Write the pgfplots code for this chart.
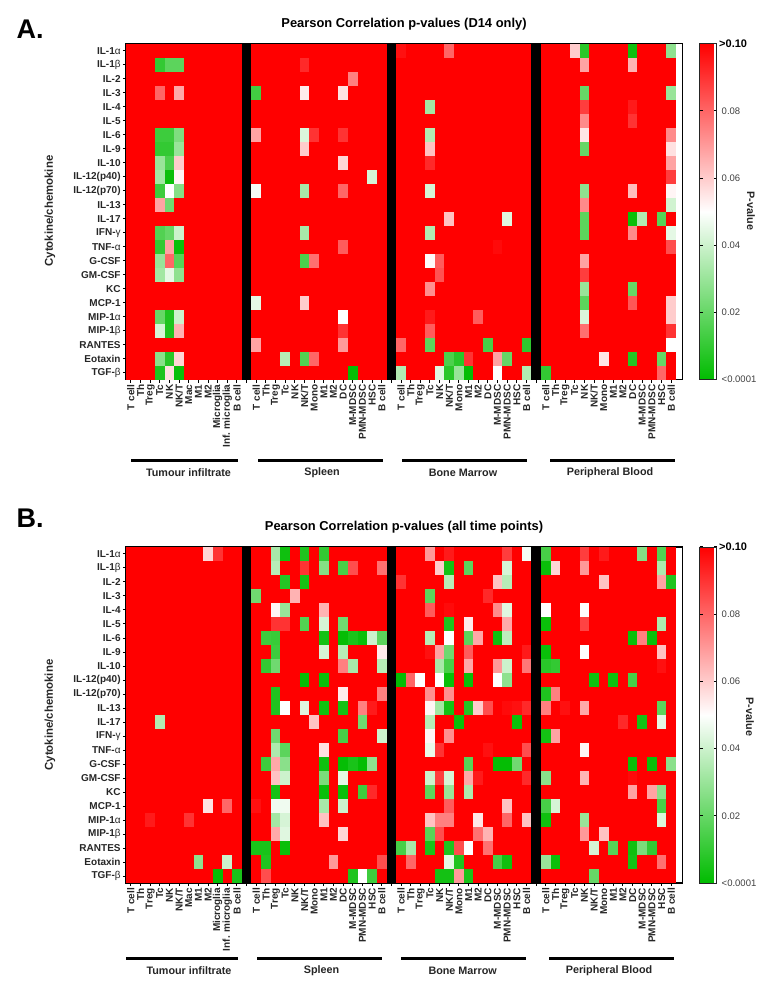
\documentclass[border=0pt]{standalone}
\usepackage{pgfplots}
\usepackage{fontspec}
\pgfplotsset{compat=1.18}
\setmainfont{Liberation Sans}
\definecolor{tg}{gray}{0.25}
\pgfdeclareplotmark{cell}{\pgfpathrectangle{\pgfpoint{-4.85pt}{-7.03pt}}{\pgfpoint{9.7pt}{14.06pt}}\pgfusepathqfill}
\pgfplotsset{
  hm/.style={
    scale only axis, width=556.7pt, height=336pt,
    anchor=south west, clip=true,
    xmin=-0.5, xmax=57.19, ymin=-0.5, ymax=23.5, y dir=reverse,
    axis line style={line width=1.3pt},
    tick align=outside, tick pos=left, major tick length=3.2pt,
    tick style={black,line width=1pt},
    xtick={0,...,56}, ytick={0,...,23},
    xticklabels={T cell,Th,Treg,Tc,NK,NK/T,Mac,M1,M2,Microglia,Inf. microglia,B cell,,
      T cell,Th,Treg,Tc,NK,NK/T,Mono,M1,M2,DC,M-MDSC,PMN-MDSC,HSC,B cell,,
      T cell,Th,Treg,Tc,NK,NK/T,Mono,M1,M2,DC,M-MDSC,PMN-MDSC,HSC,B cell,,
      T cell,Th,Treg,Tc,NK,NK/T,Mono,M1,M2,DC,M-MDSC,PMN-MDSC,HSC,B cell},
    yticklabels={IL-1{\mdseries α},IL-1{\mdseries β},IL-2,IL-3,IL-4,IL-5,IL-6,IL-9,IL-10,IL-12(p40),IL-12(p70),IL-13,IL-17,IFN-{\mdseries γ},TNF-{\mdseries α},G-CSF,GM-CSF,KC,MCP-1,MIP-1{\mdseries α},MIP-1{\mdseries β},RANTES,Eotaxin,TGF-{\mdseries β}},
    x tick label style={rotate=90,anchor=east,font=\bfseries\fontsize{10}{10}\selectfont,inner xsep=1.5pt,inner ysep=0pt,text=black!85},
    y tick label style={font=\bfseries\fontsize{10}{10}\selectfont,inner xsep=2pt,text=black!85},
    colormap={pval}{rgb255(0)=(0,188,0) rgb255(1)=(255,255,255) rgb255(2)=(255,0,0)},
    point meta min=0, point meta max=0.1,
    colorbar,
    colorbar style={
      at={(parent axis.north east)}, anchor=north west, xshift=8.3pt,
      width=17pt, height=336pt, scale only axis,
      axis line style={line width=0.8pt,black!85},
      ymin=0,ymax=0.1,
      ytick={0,0.02,0.04,0.06,0.08,0.1},
      yticklabels={<0.0001,0.02,0.04,0.06,0.08,{\hspace*{-2.5pt}\bfseries\fontsize{11}{11}\selectfont\color{black}>0.10}},
      tick align=inside, ytick pos=both, yticklabel pos=right,
      major tick length=3pt, tick style={black,line width=1pt},
      y tick label style={font=\fontsize{9.5}{10}\selectfont,text=tg,inner xsep=5pt},
    },
  },
}
\newcommand{\bgcells}{%
  \addplot[fill=red,draw=none,forget plot] coordinates {(-0.5,-0.5)(56.5,-0.5)(56.5,23.5)(-0.5,23.5)};
  \addplot[fill=black,draw=none,forget plot] coordinates {(11.5,-0.5)(12.5,-0.5)(12.5,23.5)(11.5,23.5)};
  \addplot[fill=black,draw=none,forget plot] coordinates {(26.5,-0.5)(27.5,-0.5)(27.5,23.5)(26.5,23.5)};
  \addplot[fill=black,draw=none,forget plot] coordinates {(41.5,-0.5)(42.5,-0.5)(42.5,23.5)(41.5,23.5)};
}
\begin{document}
\begin{tikzpicture}
\useasboundingbox (0,0) rectangle (782pt,995pt);
% ---------- Panel A ----------
\begin{axis}[hm, at={(126pt,615.3pt)}]
\bgcells
\addplot[scatter,only marks,mark=cell,scatter src=explicit] table[x index=0,y index=1,meta index=2,header=false,row sep=\\] {
3 1 .01\\ 4 1 .018\\ 5 1 .018\\ 18 1 .092\\
23 2 .075\\
3 3 .08\\ 5 3 .067\\ 13 3 .013\\ 18 3 .054\\ 22 3 .056\\
3 6 .012\\ 4 6 .012\\ 5 6 .025\\ 13 6 .068\\ 18 6 .043\\ 19 6 .09\\ 22 6 .09\\
3 7 .01\\ 4 7 .01\\ 5 7 .03\\ 18 7 .06\\
3 8 .03\\ 4 8 .015\\ 5 8 .06\\ 22 8 .058\\
3 9 .032\\ 4 9 .002\\ 5 9 .052\\ 25 9 .042\\
3 10 .012\\ 4 10 .05\\ 5 10 .026\\ 13 10 .048\\ 18 10 .033\\ 22 10 .08\\
3 11 .068\\ 4 11 .022\\
3 13 .016\\ 4 13 .02\\ 5 13 .04\\ 18 13 .033\\
3 14 .01\\ 4 14 .068\\ 5 14 .002\\ 22 14 .082\\
3 15 .03\\ 4 15 .08\\ 5 15 .017\\ 18 15 .015\\ 19 15 .078\\
3 16 .032\\ 4 16 .045\\ 5 16 .028\\
13 18 .045\\ 18 18 .06\\
3 19 .02\\ 4 19 .006\\ 5 19 .04\\ 22 19 .05\\
3 20 .042\\ 4 20 .006\\ 5 20 .065\\ 22 20 .09\\
13 21 .068\\ 22 21 .07\\
3 22 .027\\ 4 22 .008\\ 5 22 .058\\ 16 22 .036\\ 18 22 .016\\ 19 22 .08\\
3 23 .006\\ 4 23 .056\\ 5 23 .002\\ 23 23 .001\\
28 0 .097\\ 33 0 .08\\ 46 0 .06\\ 47 0 .008\\ 52 0 .003\\ 56 0 .028\\
47 1 .068\\ 52 1 .065\\
47 3 .02\\ 56 3 .03\\
31 4 .032\\ 47 4 .088\\ 52 4 .095\\
47 5 .073\\ 52 5 .09\\
31 6 .035\\ 47 6 .055\\ 56 6 .073\\
31 7 .062\\ 47 7 .02\\ 56 7 .056\\
31 8 .092\\ 56 8 .068\\
56 9 .088\\
31 10 .042\\ 47 10 .028\\ 52 10 .063\\ 56 10 .052\\
47 11 .073\\ 56 11 .041\\
33 12 .062\\ 39 12 .044\\ 47 12 .018\\ 52 12 .002\\ 53 12 .035\\ 55 12 .017\\
31 13 .035\\ 47 13 .018\\ 52 13 .073\\ 56 13 .045\\
38 14 .098\\ 56 14 .085\\
31 15 .051\\ 32 15 .082\\ 47 15 .068\\
32 16 .084\\ 47 16 .088\\
31 17 .072\\ 47 17 .03\\ 52 17 .02\\
47 18 .018\\ 52 18 .083\\ 56 18 .06\\
31 19 .095\\ 36 19 .082\\ 47 19 .043\\ 56 19 .06\\
31 20 .082\\ 47 20 .078\\ 56 20 .09\\
28 21 .08\\ 31 21 .018\\ 37 21 .014\\ 41 21 .009\\ 56 21 .05\\
33 22 .015\\ 34 22 .008\\ 35 22 .09\\ 38 22 .068\\ 39 22 .02\\ 49 22 .055\\ 52 22 .007\\ 55 22 .02\\
28 23 .035\\ 32 23 .044\\ 33 23 .008\\ 34 23 .03\\ 35 23 .001\\ 38 23 .05\\ 41 23 .035\\ 43 23 .01\\ 55 23 .08\\
};
\end{axis}
% ---------- Panel B ----------
\begin{axis}[hm, at={(126pt,112pt)}]
\bgcells
\addplot[scatter,only marks,mark=cell,scatter src=explicit] table[x index=0,y index=1,meta index=2,header=false,row sep=\\] {
8 0 .058\\ 9 0 .09\\ 15 0 .033\\ 16 0 .003\\ 18 0 .006\\ 20 0 .01\\
15 1 .036\\ 18 1 .09\\ 20 1 .026\\ 22 1 .014\\ 23 1 .085\\ 26 1 .078\\
16 2 .007\\ 18 2 .004\\
13 3 .022\\ 17 3 .065\\
15 4 .052\\ 16 4 .03\\ 20 4 .065\\
15 5 .09\\ 16 5 .09\\ 18 5 .016\\ 20 5 .042\\ 22 5 .022\\
14 6 .012\\ 15 6 .011\\ 20 6 .004\\ 22 6 .001\\ 23 6 .005\\ 24 6 .002\\ 25 6 .04\\ 26 6 .018\\
15 7 .012\\ 20 7 .042\\ 22 7 .036\\ 26 7 .054\\
14 8 .01\\ 15 8 .022\\ 22 8 .075\\ 23 8 .033\\ 26 8 .036\\
18 9 .001\\ 20 9 .002\\
15 10 .006\\ 22 10 .054\\ 26 10 .075\\
15 11 .006\\ 16 11 .05\\ 18 11 .044\\ 20 11 .003\\ 22 11 .004\\ 24 11 .075\\ 25 11 .095\\
3 12 .035\\ 19 12 .062\\ 24 12 .022\\
15 13 .022\\ 22 13 .014\\ 26 13 .04\\
15 14 .034\\ 16 14 .018\\ 20 14 .056\\
14 15 .012\\ 15 15 .067\\ 16 15 .027\\ 20 15 .003\\ 22 15 .001\\ 23 15 .005\\ 24 15 .001\\ 25 15 .028\\
15 16 .062\\ 16 16 .04\\ 20 16 .024\\ 22 16 .045\\
15 17 .004\\ 20 17 .002\\ 22 17 .002\\ 24 17 .012\\ 25 17 .092\\
8 18 .056\\ 10 18 .08\\ 13 18 .097\\ 15 18 .047\\ 16 18 .047\\ 20 18 .033\\ 22 18 .04\\
2 19 .095\\ 6 19 .09\\ 15 19 .032\\ 16 19 .042\\ 20 19 .062\\
15 20 .067\\ 16 20 .044\\ 22 20 .058\\
13 21 .005\\ 14 21 .005\\ 16 21 .002\\
7 22 .028\\ 10 22 .04\\ 14 22 .006\\ 21 22 .07\\ 26 22 .085\\
9 23 .001\\ 11 23 .005\\ 14 23 .085\\ 23 23 .006\\ 24 23 .05\\ 25 23 .012\\
31 0 .07\\ 33 0 .095\\ 39 0 .088\\ 41 0 .048\\ 43 0 .014\\ 47 0 .088\\ 49 0 .095\\ 53 0 .026\\ 55 0 .016\\
32 1 .06\\ 33 1 .004\\ 35 1 .018\\ 39 1 .042\\ 43 1 .002\\ 44 1 .058\\ 47 1 .07\\ 55 1 .034\\
28 2 .09\\ 33 2 .036\\ 38 2 .062\\ 39 2 .036\\ 49 2 .062\\ 55 2 .068\\ 56 2 .006\\
31 3 .018\\ 37 3 .092\\
31 4 .082\\ 33 4 .098\\ 38 4 .073\\ 39 4 .044\\ 43 4 .05\\ 47 4 .05\\
33 5 .006\\ 35 5 .054\\ 39 5 .067\\ 43 5 .002\\ 47 5 .087\\ 55 5 .034\\
31 6 .036\\ 33 6 .05\\ 35 6 .018\\ 36 6 .067\\ 38 6 .003\\ 39 6 .037\\ 52 6 .002\\ 53 6 .075\\ 54 6 .002\\
31 7 .097\\ 32 7 .068\\ 33 7 .022\\ 35 7 .082\\ 41 7 .095\\ 43 7 .002\\ 47 7 .05\\ 55 7 .062\\
32 8 .033\\ 33 8 .014\\ 35 8 .067\\ 38 8 .07\\ 39 8 .04\\ 41 8 .077\\ 43 8 .008\\ 44 8 .01\\ 55 8 .097\\
28 9 .001\\ 29 9 .08\\ 30 9 .05\\ 32 9 .05\\ 33 9 .002\\ 35 9 .002\\ 38 9 .05\\ 39 9 .028\\ 48 9 .003\\ 50 9 .003\\ 52 9 .014\\
31 10 .072\\ 33 10 .072\\ 43 10 .006\\ 44 10 .075\\
31 11 .052\\ 32 11 .032\\ 33 11 .004\\ 35 11 .007\\ 36 11 .06\\ 37 11 .085\\ 39 11 .098\\ 40 11 .097\\ 41 11 .092\\ 43 11 .075\\ 45 11 .097\\ 47 11 .067\\ 55 11 .018\\
31 12 .036\\ 34 12 .002\\ 40 12 .002\\ 51 12 .092\\ 53 12 .004\\ 55 12 .045\\
31 13 .052\\ 33 13 .072\\ 43 13 .004\\ 44 13 .068\\
31 14 .046\\ 32 14 .09\\ 37 14 .097\\ 41 14 .085\\ 47 14 .052\\
35 15 .017\\ 38 15 .001\\ 39 15 .001\\ 40 15 .022\\ 52 15 .002\\ 54 15 .002\\ 56 15 .027\\
31 16 .04\\ 32 16 .088\\ 33 16 .042\\ 35 16 .067\\ 36 16 .095\\ 41 16 .092\\ 43 16 .027\\ 47 16 .065\\ 52 16 .098\\
31 17 .018\\ 33 17 .03\\ 35 17 .034\\ 52 17 .068\\ 54 17 .068\\ 55 17 .027\\
33 18 .082\\ 39 18 .062\\ 43 18 .014\\ 44 18 .042\\ 55 18 .014\\
31 19 .062\\ 32 19 .075\\ 33 19 .075\\ 36 19 .055\\ 39 19 .08\\ 41 19 .062\\ 43 19 .003\\ 47 19 .03\\ 55 19 .043\\
31 20 .017\\ 32 20 .085\\ 36 20 .078\\ 37 20 .065\\ 47 20 .07\\ 49 20 .062\\
28 21 .014\\ 29 21 .033\\ 31 21 .005\\ 33 21 .006\\ 34 21 .085\\ 35 21 .05\\ 37 21 .078\\ 48 21 .042\\ 50 21 .017\\ 52 21 .003\\ 53 21 .024\\ 54 21 .01\\
29 22 .08\\ 33 22 .045\\ 34 22 .006\\ 38 22 .014\\ 39 22 .003\\ 43 22 .03\\ 44 22 .002\\ 52 22 .004\\ 55 22 .078\\
32 23 .004\\ 33 23 .004\\ 34 23 .07\\ 35 23 .005\\ 48 23 .02\\
};
\end{axis}
% ---------- Text and group rules ----------
\tikzset{lab/.style={font=\bfseries\fontsize{10.8}{11}\selectfont,text=black!85}}
\node[font=\bfseries\fontsize{27}{27}\selectfont,anchor=west] at (13pt,966pt) {A.};
\node[font=\bfseries\fontsize{27}{27}\selectfont,anchor=west] at (13pt,477pt) {B.};
\node[font=\bfseries\fontsize{12.9}{13}\selectfont] at (404pt,970.8pt) {Pearson Correlation p-values (D14 only)};
\node[font=\bfseries\fontsize{12.9}{13}\selectfont] at (404pt,467.5pt) {Pearson Correlation p-values (all time points)};
\node[lab,rotate=90,font=\bfseries\fontsize{11.4}{12}\selectfont] at (50pt,784pt) {Cytokine/chemokine};
\node[lab,rotate=90,font=\bfseries\fontsize{11.4}{12}\selectfont] at (50pt,280pt) {Cytokine/chemokine};
\node[lab,rotate=-90] at (751pt,784pt) {P-value};
\node[lab,rotate=-90] at (750pt,278pt) {P-value};
\foreach \a/\b/\t/\c in {131/238/Tumour infiltrate/188.5,258/383/Spleen/322,402/527/Bone Marrow/463,550/675/Peripheral Blood/610}{
  \fill[black] (\a pt,533pt) rectangle (\b pt,536pt);
  \node[lab] at (\c pt,522pt) {\t};
}
\foreach \a/\b/\t/\c in {126/238/Tumour infiltrate/189,257/382/Spleen/321.5,401/526/Bone Marrow/462.7,549/674/Peripheral Blood/609}{
  \fill[black] (\a pt,35.2pt) rectangle (\b pt,38.2pt);
  \node[lab] at (\c pt,24pt) {\t};
}
\end{tikzpicture}
\end{document}
